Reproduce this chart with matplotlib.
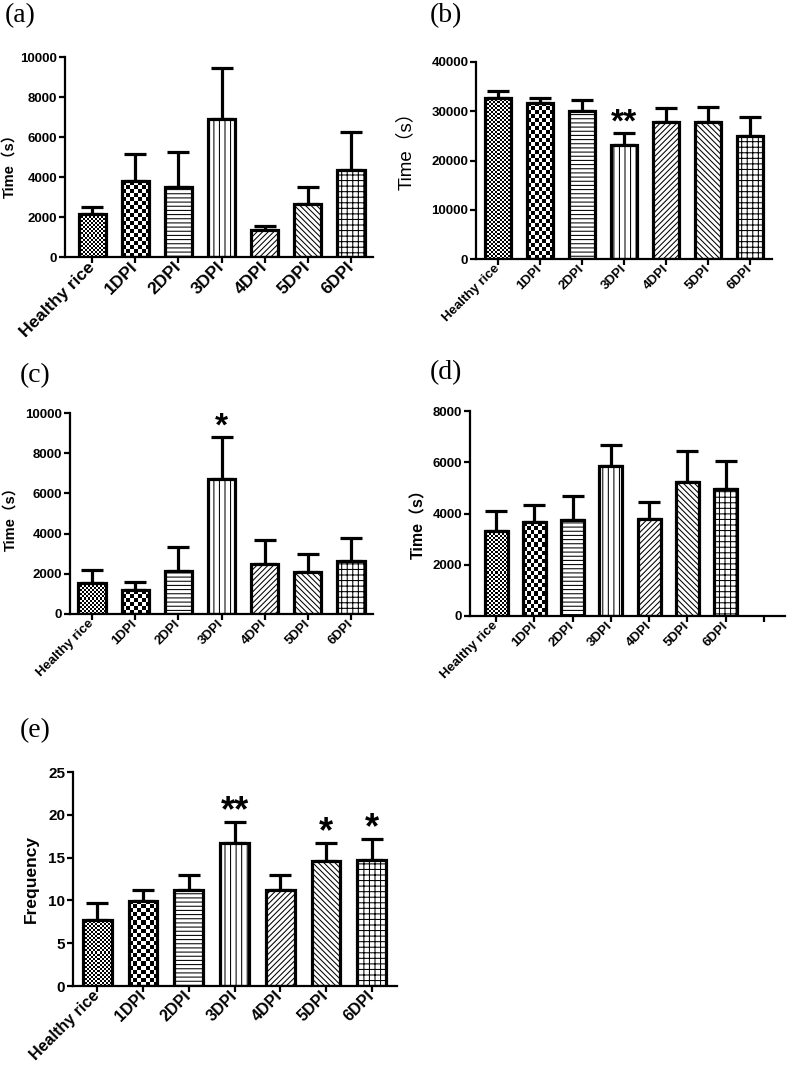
import numpy as np
import matplotlib
matplotlib.use('Agg')
import matplotlib.pyplot as plt
from matplotlib.transforms import ScaledTranslation

plt.rcParams['font.family'] = ['Liberation Sans', 'Noto Sans CJK SC']
plt.rcParams['hatch.linewidth'] = 0.75
plt.rcParams['hatch.color'] = 'black'

groups = ['Healthy rice', '1DPI', '2DPI', '3DPI', '4DPI', '5DPI', '6DPI']

# panel data: mean and upper SE
a_mean = [2140, 3800, 3490, 6900, 1360, 2630, 4350]
a_err = [370, 1330, 1770, 2550, 200, 880, 1900]
a_sig = ['', '', '', '', '', '', '']

b_mean = [32770, 31690, 30140, 23180, 27770, 27770, 25070]
b_err = [1420, 1080, 2230, 2430, 2970, 3040, 3850]
b_sig = ['', '', '', '**', '', '', '']

c_mean = [1540, 1190, 2120, 6730, 2500, 2110, 2650]
c_err = [630, 400, 1230, 2060, 1190, 880, 1110]
c_sig = ['', '', '', '*', '', '', '']

d_mean = [3310, 3650, 3740, 5840, 3790, 5230, 4970]
d_err = [780, 680, 960, 840, 660, 1210, 1090]
d_sig = ['', '', '', '', '', '', '']

e_mean = [7.76, 9.98, 11.23, 16.73, 11.23, 14.66, 14.74]
e_err = [1.99, 1.21, 1.76, 2.42, 1.76, 2.03, 2.38]
e_sig = ['', '', '', '**', '', '*', '*']

patterns = ['check2', 'check4', '----', '|||', '//////', '\\\\\\\\\\\\', '+++']

W, H = 787, 1075
fig = plt.figure(figsize=(W / 100, H / 100), dpi=100)


def box(left, right, top, bottom):
    return [left / W, 1 - bottom / H, (right - left) / W, (bottom - top) / H]


def checker(ax, bar, cell):
    x0 = bar.get_x()
    w = bar.get_width()
    h = bar.get_height()
    p0 = ax.transData.transform((x0, 0))
    p1 = ax.transData.transform((x0 + w, h))
    nx = max(1, int(round((p1[0] - p0[0]) / cell)))
    ny = max(1, int(round((p1[1] - p0[1]) / cell)))
    img = np.indices((ny, nx)).sum(axis=0) % 2
    im = ax.imshow(img, cmap='gray', extent=(x0, x0 + w, 0, h), aspect='auto',
                   interpolation='nearest', origin='lower', zorder=2.5)
    im.set_clip_path(bar)


def panel(pos, means, errs, sig, ymax, ystep, ylabel, xlim, label_xy,
          ylab_font, tick_fs, xtick_fs, width=0.63, extra=0, star_fs=24, shift=4):
    ax = fig.add_axes(box(*pos))
    n = len(means)
    x = np.arange(n)
    ax.set_xlim(*xlim)
    ax.set_ylim(0, ymax)
    bars = ax.bar(x, means, width=width, color='white', edgecolor='none', zorder=2)
    outline = ax.bar(x, means, width=width, fill=False, edgecolor='black',
                     linewidth=2.3, zorder=3)
    for bar, edge, pat in zip(bars, outline, patterns):
        if pat.startswith('check'):
            checker(ax, bar, int(pat[5:]))
        else:
            edge.set_hatch(pat)
    ax.errorbar(x, means, yerr=[np.zeros(n), errs], fmt='none', ecolor='black',
                elinewidth=2.3, capsize=8, capthick=2.3, zorder=1.5)
    for xi, m, e, s in zip(x, means, errs, sig):
        if s:
            ax.annotate(s, (xi, m + e), xytext=(0, 1), textcoords='offset points',
                        ha='center', va='baseline', fontsize=star_fs, fontweight='bold')
    ax.set_xlim(*xlim)
    ax.set_ylim(0, ymax)
    ax.set_yticks(np.arange(0, ymax + ystep / 2, ystep))
    ticks = list(x) + [n + i for i in range(extra)]
    ax.set_xticks(ticks, groups + [''] * extra, rotation=45, ha='right',
                  va='center', rotation_mode='anchor')
    off = ScaledTranslation(shift / 72, -4 / 72, fig.dpi_scale_trans)
    for lab in ax.get_xticklabels():
        lab.set_transform(lab.get_transform() + off)
        lab.set_fontweight('bold')
        lab.set_fontsize(xtick_fs)
    for lab in ax.get_yticklabels():
        lab.set_fontweight('bold')
        lab.set_fontsize(tick_fs)
    ax.tick_params(axis='both', length=4, width=1.6, pad=1.5)
    for sp in ['top', 'right']:
        ax.spines[sp].set_visible(False)
    for sp in ['left', 'bottom']:
        ax.spines[sp].set_linewidth(1.6)
    ax.set_ylabel(ylabel, **ylab_font)
    ax.yaxis.set_label_coords(*label_xy)
    ax.set_facecolor('none')
    return ax


panel((65, 373, 57, 257), a_mean, a_err, a_sig, 10000, 2000, 'Time（s）',
      (-0.63, 6.51), (-0.158, 0.475), dict(fontsize=10.5, fontweight='bold'), 9.5, 12.5,
      shift=8)
panel((476, 772, 62, 259), b_mean, b_err, b_sig, 40000, 10000, 'Time（s）',
      (-0.52, 6.52), (-0.206, 0.57), dict(fontsize=13.5), 9.5, 9.5)
panel((70, 373, 413, 614), c_mean, c_err, c_sig, 10000, 2000, 'Time（s）',
      (-0.51, 6.51), (-0.172, 0.49), dict(fontsize=10.5, fontweight='bold'), 9.5, 9.5)
panel((470, 785, 411, 616), d_mean, d_err, d_sig, 8000, 2000, 'Time（s）',
      (-0.68, 7.55), (-0.14, 0.47), dict(fontsize=11.5, fontweight='bold'), 9.5, 9.5,
      width=0.6, extra=1)
panel((73, 397, 772, 986), e_mean, e_err, e_sig, 25, 5, 'Frequency',
      (-0.53, 6.55), (-0.105, 0.5), dict(fontsize=12.5, fontweight='bold'), 11, 11.5,
      star_fs=26)

letters = [('(a)', 5, 3), ('(b)', 430, 3), ('(c)', 20, 363), ('(d)', 430, 360), ('(e)', 20, 718)]
for t, px, py in letters:
    fig.text(px / W, 1 - py / H, t, family='Liberation Serif', fontsize=20,
             ha='left', va='top')

fig.savefig('out.png', dpi=100)
